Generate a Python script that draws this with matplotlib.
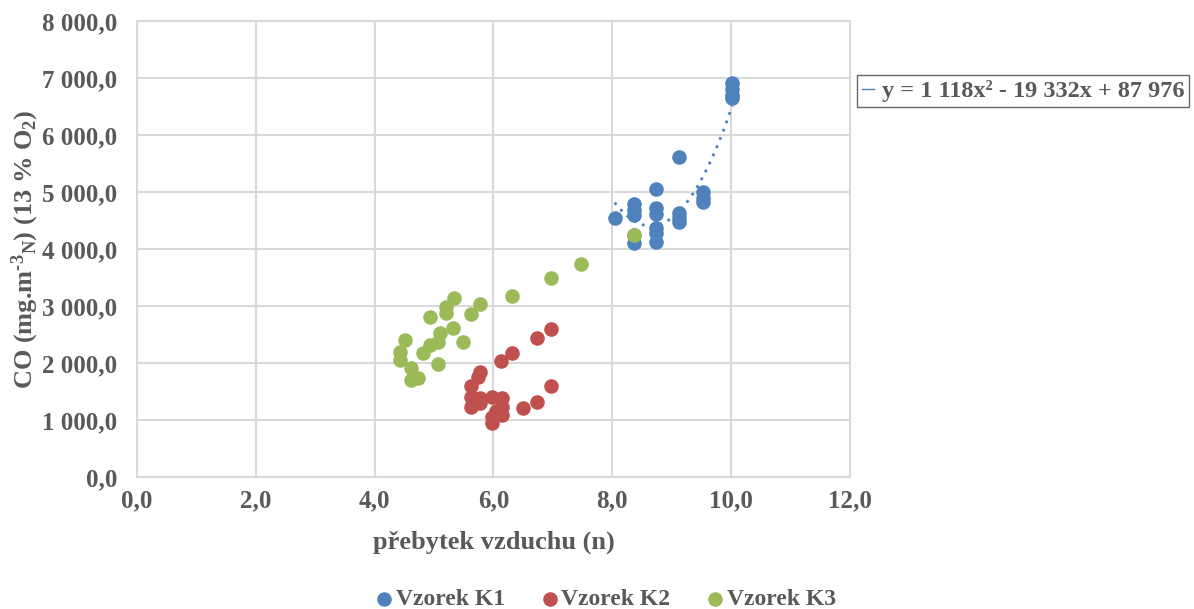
import matplotlib
matplotlib.use("Agg")
import matplotlib.pyplot as plt
from matplotlib.lines import Line2D
from matplotlib.ticker import FuncFormatter
import numpy as np

# data
k1_x = [8.04, 8.37, 8.37, 8.37, 8.37, 8.37, 8.73, 8.73, 8.73, 8.73, 8.73, 8.73,
        9.12, 9.12, 9.12, 9.12, 9.53, 9.53, 9.53, 10.02, 10.02, 10.02, 10.02]
k1_y = [4544, 4790, 4680, 4600, 4250, 4110, 5060, 4720, 4620, 4360, 4280, 4120,
        5614, 4630, 4550, 4480, 5000, 4900, 4820, 6920, 6800, 6700, 6650]

k2_x = [6.96, 6.73, 6.32, 6.13, 5.77, 5.74, 5.62, 6.96, 6.73, 6.50, 5.63, 5.63,
        5.77, 5.77, 5.97, 6.14, 6.14, 6.14, 5.97, 5.97, 6.05]
k2_y = [2591, 2433, 2181, 2041, 1848, 1760, 1596, 1602, 1321, 1205, 1409, 1234,
        1386, 1290, 1409, 1380, 1234, 1088, 1058, 942, 1150]

k3_x = [8.37, 7.47, 6.96, 6.32, 5.78, 5.63, 5.33, 5.20, 5.20, 4.94, 5.32, 5.10,
        5.49, 5.07, 4.93, 4.82, 4.51, 4.43, 4.43, 5.07, 4.62, 4.65, 4.73, 4.62]
k3_y = [4245, 3737, 3486, 3175, 3035, 2854, 3135, 2988, 2871, 2813, 2608, 2520,
        2374, 2374, 2316, 2181, 2404, 2199, 2053, 1982, 1907, 1760, 1731, 1700]

# trendline for K1 (from the chart): y = 1118x^2 - 19332x + 87976
coef = [1118, -19332, 87976]

blue = "#4F81BD"
red = "#C0504D"
green = "#9BBB59"
txt = "#595959"

plt.rcParams["font.family"] = ["Liberation Serif", "DejaVu Serif"]
plt.rcParams["font.weight"] = "bold"
plt.rcParams["mathtext.fontset"] = "custom"
plt.rcParams["mathtext.rm"] = "Liberation Serif:bold"
plt.rcParams["mathtext.default"] = "rm"

fig = plt.figure(figsize=(11.94, 6.09), dpi=100)
ax = fig.add_axes([0.1147, 0.2167, 0.5972, 0.7488])

s = 110
ax.scatter(k1_x, k1_y, s=s, color=blue, label="Vzorek K1", zorder=3, linewidths=0)
ax.scatter(k2_x, k2_y, s=s, color=red, label="Vzorek K2", zorder=3, linewidths=0)
ax.scatter(k3_x, k3_y, s=s, color=green, label="Vzorek K3", zorder=4, linewidths=0)

xt = np.linspace(min(k1_x), max(k1_x), 100)
ax.plot(xt, np.polyval(coef, xt), color=blue, lw=2, ls=(0, (1, 2.2)), zorder=2)

ax.set_xlim(0, 12)
ax.set_ylim(0, 8000)
ax.set_xticks(np.arange(0, 13, 2))
ax.set_yticks(np.arange(0, 8001, 1000))


def fmt(v, pos):
    s = f"{v:,.1f}".replace(",", " ").replace(".", ",")
    return s


ax.xaxis.set_major_formatter(FuncFormatter(fmt))
ax.yaxis.set_major_formatter(FuncFormatter(fmt))
ax.tick_params(length=0, labelsize=18, labelcolor=txt)
ax.tick_params(axis="y", pad=14)
ax.tick_params(axis="x", pad=9)
for lab in ax.get_xticklabels() + ax.get_yticklabels():
    lab.set_fontweight("bold")

ax.grid(True, color="#D9D9D9", lw=1.5, zorder=0)
ax.set_axisbelow(True)
for sp in ax.spines.values():
    sp.set_visible(False)
for gl in ax.get_xgridlines() + ax.get_ygridlines():
    gl.set_clip_on(False)

ax.set_xlabel("přebytek vzduchu (n)", fontsize=19, color=txt, fontweight="bold", labelpad=13)
ax.set_ylabel("CO (mg.m$^{\u2010 3}$$_{N}$) (13 % O$_{2}$)", fontsize=19, color=txt,
              fontweight="bold", labelpad=1)

leg = fig.legend(handles=ax.collections[:3], labels=["Vzorek K1", "Vzorek K2", "Vzorek K3"],
                 loc="center", bbox_to_anchor=(0.501, 0.016), ncol=3, frameon=False,
                 fontsize=17, handletextpad=-0.5, columnspacing=0.9, markerscale=1.0)
for t in leg.get_texts():
    t.set_color(txt)

trend_handle = Line2D([], [], color=blue, lw=1)
leg2 = fig.legend(handles=[trend_handle], labels=["y = 1 118x² - 19 332x + 87 976"],
                  loc="center left", bbox_to_anchor=(0.716, 0.85), frameon=True,
                  fontsize=17.5, handlelength=0.5, handletextpad=0.3, fancybox=False,
                  borderpad=0.2, borderaxespad=0.1)
leg2.get_frame().set_edgecolor("#404040")
leg2.get_frame().set_linewidth(1)
for t in leg2.get_texts():
    t.set_color(txt)

fig.savefig("out.png", dpi=100)
